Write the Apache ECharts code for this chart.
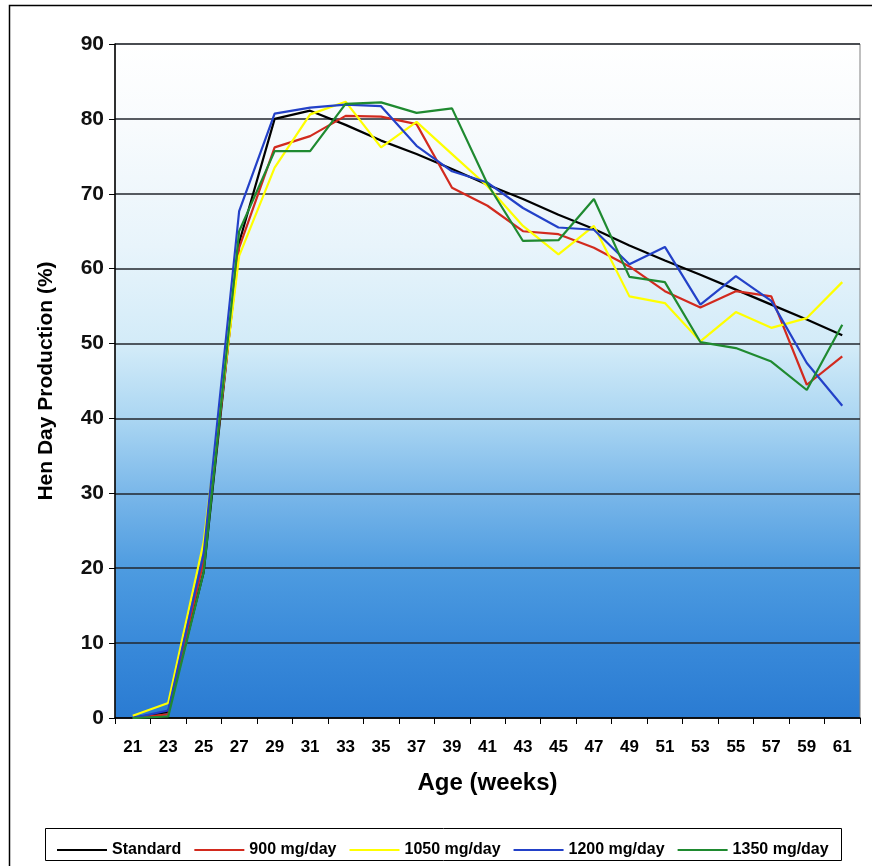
<!DOCTYPE html>
<html>
<head>
<meta charset="utf-8">
<title>Hen Day Production</title>
<script src="https://cdn.jsdelivr.net/npm/echarts@6/dist/echarts.min.js"></script>
<style>
  html, body { margin: 0; padding: 0; background: #ffffff; }
  #chart { width: 872px; height: 866px; }
</style>
</head>
<body>
<div id="chart"></div>
<script>
// Age in weeks (every second week)
const weeks = ['21', '23', '25', '27', '29', '31', '33', '35', '37', '39', '41',
               '43', '45', '47', '49', '51', '53', '55', '57', '59', '61'];

// Hen day production (%) per treatment
const standard = [0, 0.8, 19.5, 63.5, 80.0, 81.1, 79.2, 77.1, 75.3, 73.3, 71.2,
                  69.3, 67.2, 65.3, 63.1, 61.1, 59.2, 57.2, 55.2, 53.2, 51.1];
const mg900    = [0, 0.5, 21.0, 62.8, 76.2, 77.7, 80.4, 80.3, 79.3, 70.8, 68.4,
                  65.0, 64.6, 62.8, 60.3, 57.0, 54.8, 57.0, 56.3, 44.5, 48.3];
const mg1050   = [0.3, 2.0, 23.5, 61.7, 73.5, 80.6, 82.3, 76.2, 79.6, 75.3, 71.0,
                  65.7, 61.9, 65.7, 56.3, 55.4, 50.3, 54.2, 52.1, 53.4, 58.2];
const mg1200   = [0, 1.0, 22.0, 67.7, 80.7, 81.5, 81.9, 81.7, 76.4, 73.0, 71.5,
                  68.1, 65.5, 65.2, 60.6, 62.9, 55.2, 59.0, 55.7, 47.4, 41.7];
const mg1350   = [0, 0.2, 19.5, 65.0, 75.7, 75.7, 82.0, 82.2, 80.8, 81.4, 71.3,
                  63.7, 63.8, 69.3, 58.9, 58.2, 50.2, 49.4, 47.6, 43.8, 52.5];

const seriesNames = ['Standard', '900 mg/day', '1050 mg/day', '1200 mg/day', '1350 mg/day'];
const seriesData = [standard, mg900, mg1050, mg1200, mg1350];
const seriesColors = ['#000000', '#d22a1e', '#ffff00', '#2341c8', '#1f8a30'];

const FONT = '"Liberation Sans", Arial, sans-serif';

const chart = echarts.init(document.getElementById('chart'), null, { renderer: 'canvas' });

chart.setOption({
  animation: false,
  backgroundColor: '#ffffff',
  textStyle: { fontFamily: FONT },
  grid: {
    left: 115, right: 12, top: 44, bottom: 148,
    show: true,
    borderColor: '#808080',
    borderWidth: 1,
    backgroundColor: new echarts.graphic.LinearGradient(0, 0, 0, 1, [
      { offset: 0.00, color: '#ffffff' },
      { offset: 0.12, color: '#f8fbfd' },
      { offset: 0.30, color: '#e8f4fb' },
      { offset: 0.45, color: '#d2ebf8' },
      { offset: 0.56, color: '#a9d5f2' },
      { offset: 0.67, color: '#78b6e9' },
      { offset: 0.78, color: '#4d9be0' },
      { offset: 0.90, color: '#3788d9' },
      { offset: 1.00, color: '#2a7bd2' }
    ])
  },
  legend: {
    left: 52,
    top: 837,
    itemWidth: 50,
    itemHeight: 12,
    itemGap: 13,
    icon: 'path://M0,5 L50,5 L50,7 L0,7 Z',
    textStyle: { fontFamily: FONT, fontSize: 16, fontWeight: 'bold', color: '#000' },
    data: seriesNames
  },
  xAxis: {
    type: 'category',
    data: weeks,
    boundaryGap: true,
    name: 'Age (weeks)',
    nameLocation: 'middle',
    nameGap: 53,
    nameTextStyle: { fontFamily: FONT, fontSize: 24, fontWeight: 'bold', color: '#000' },
    axisLine: { lineStyle: { color: '#000', width: 1.5 } },
    axisTick: { show: true, inside: false, length: 6, interval: 0, lineStyle: { color: '#000' } },
    axisLabel: { interval: 0, margin: 21, fontFamily: FONT, fontSize: 17, fontWeight: 'bold', color: '#000' },
    splitLine: { show: false }
  },
  yAxis: {
    type: 'value',
    min: 0, max: 90, interval: 10,
    name: 'Hen Day Production (%)',
    nameLocation: 'middle',
    nameGap: 58,
    nameTextStyle: { fontFamily: FONT, fontSize: 21, fontWeight: 'bold', color: '#000' },
    axisLine: { show: true, lineStyle: { color: '#000', width: 1.5 } },
    axisTick: { show: true, inside: false, length: 6, lineStyle: { color: '#000' } },
    axisLabel: { margin: 11, fontFamily: FONT, fontSize: 21, fontWeight: 'bold', color: '#111' },
    splitLine: { show: true, lineStyle: { color: '#22262c', width: 1.5 } }
  },
  series: seriesNames.map((name, i) => ({
    name: name,
    type: 'line',
    data: seriesData[i],
    symbol: 'none',
    showSymbol: false,
    color: seriesColors[i],
    lineStyle: { color: seriesColors[i], width: 2.2 },
    z: 2 + i
  })),
  graphic: [
    {
      type: 'rect',
      shape: { x: 9.5, y: 5.5, width: 900, height: 900 },
      style: { fill: null, stroke: '#000', lineWidth: 1.5 },
      silent: true
    },
    {
      type: 'rect',
      shape: { x: 45.5, y: 828.5, width: 796, height: 32 },
      style: { fill: '#ffffff', stroke: '#000', lineWidth: 1 },
      z: -1,
      silent: true
    }
  ]
});
</script>
</body>
</html>
